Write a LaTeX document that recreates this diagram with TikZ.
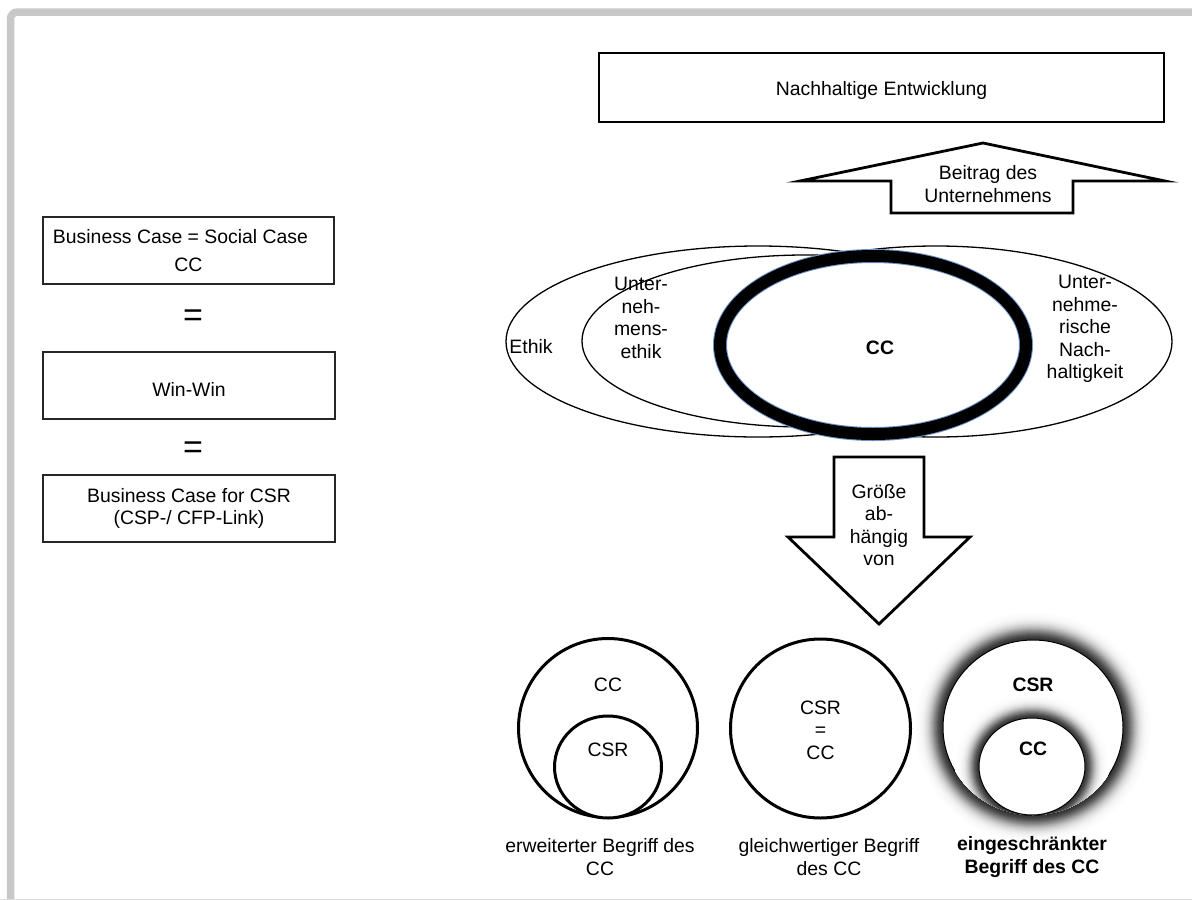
\documentclass[tikz,border=0pt]{standalone}
\usepackage{fontspec}
\setmainfont{Liberation Sans}
\usetikzlibrary{shapes.geometric}
\definecolor{framegray}{RGB}{200,200,200}
\definecolor{ringedge}{RGB}{110,150,205}
\begin{document}
\begin{tikzpicture}[x=1pt,y=-1pt,
  txt/.style={font=\fontsize{19.4}{22.4}\selectfont, align=center, inner sep=0pt},
  btxt/.style={txt, font=\fontsize{19.4}{22.4}\selectfont\bfseries},
  eqsign/.style={font=\fontsize{34}{34}\selectfont, inner sep=0pt},
  bx/.style={draw=black!85, line width=1.3, inner sep=0pt},
  oval/.style={ellipse, draw=black, line width=1.3, fill=white, inner sep=0pt},
  ring/.style={ellipse, draw=black, line width=3, fill=white, inner sep=0pt},
  thinring/.style={ellipse, draw=black, line width=1, fill=white, inner sep=0pt},
  bigarrow/.style={draw=black, line width=2.8, fill=white, line join=miter}]
\useasboundingbox (0,0) rectangle (1192,900);

% page frame
\draw[framegray, line width=7.5, rounded corners=7] (10.5,1000) |- (1300,12);
\draw[black!13, line width=3] (0,900) -- (1192,900);

% left column
\node[bx, minimum width=291, minimum height=67] (bc) at (188.5,250.5) {};
\node[txt] (bct) at (180.5,237) {Business Case = Social Case};
\node[txt] (bcc) at (188.5,265) {CC};
\node[eqsign] (eq1) at (193,318) {=};
\node[bx, minimum width=292, minimum height=67] (ww) at (189,385.5) {};
\node[txt] (wwt) at (189,389) {Win-Win};
\node[eqsign] (eq2) at (193,450) {=};
\node[bx, minimum width=292, minimum height=67] (bcsr) at (189,508.5) {};
\node[txt] (bcsrt) at (189,508.5) {Business Case for CSR\\(CSP-/ CFP-Link)};

% top box and upward arrow
\node[draw=black, line width=2.5, inner sep=0pt, minimum width=565, minimum height=69] (ne) at (881.5,87.5) {};
\node[txt] (net) at (881.5,90) {Nachhaltige Entwicklung};
\draw[bigarrow] (891,213) -- (891,181) -- (800,181) -- (983,143) -- (1165,181) -- (1073,181) -- (1073,213) -- cycle;
\node[txt] (up) at (988,184) {Beitrag des\\Unternehmens};

% overlapping ellipses
\node[oval, minimum width=504, minimum height=191] (eth) at (758,341.5) {};
\node[oval, minimum width=472, minimum height=191] (nach) at (936,341.5) {};
\node[oval, minimum width=446, minimum height=172] (ueth) at (805,341) {};
\node[ellipse, draw=ringedge, line width=14, fill=white, inner sep=0pt, minimum width=306, minimum height=178] (ccr) at (873,345) {};
\draw[black, line width=12] (ccr.center) ellipse[x radius=153, y radius=89];
\node[btxt] (cct) at (880,348) {CC};
\node[txt] (etht) at (531,347) {Ethik};
\node[txt] (uetht) at (641,318) {Unter-\\neh-\\mens-\\ethik};
\node[txt] (nacht) at (1085,329) {Unter-\\nehme-\\rische\\Nach-\\haltigkeit};

% downward arrow
\draw[bigarrow] (834,457) -- (924,457) -- (924,537) -- (970,537) -- (879,624) -- (788,537) -- (834,537) -- cycle;
\node[txt] (down) at (879,525) {Größe\\ab-\\hängig\\von};

% soft dark glow behind the restricted notion
\foreach \i in {28,27,...,1}{
  \pgfmathsetmacro\k{80*exp(-(\i/12.5)^2)}
  \fill[black!\k] (1033,727.5) ellipse[x radius=90+\i, y radius=87.5+\i];
}

% extended notion
\node[ring, minimum width=179, minimum height=179] (a1) at (608,728) {};
\node[ring, minimum width=107, minimum height=102] (a2) at (608,767) {};
\node[txt] (a1t) at (608,685) {CC};
\node[txt] (a2t) at (608,750) {CSR};
\node[txt] (al) at (600,857) {erweiterter Begriff des\\CC};

% equivalent notion
\node[ring, minimum width=180, minimum height=179] (b1) at (820.5,728.5) {};
\node[txt] (b1t) at (820.5,730) {CSR\\=\\CC};
\node[txt] (bl) at (829,857) {gleichwertiger Begriff\\des CC};

% restricted notion
\node[thinring, minimum width=180, minimum height=175] (c1) at (1033,727.5) {};
\begin{scope}
  \clip (c1.center) ellipse[x radius=90, y radius=87.5];
  \foreach \i in {24,23,...,1}{
    \pgfmathsetmacro\k{80*exp(-(\i/10)^2)}
    \fill[black!\k] (1032,766.5) ellipse[x radius=53+\i, y radius=48.5+\i];
  }
\end{scope}
\node[thinring, minimum width=106, minimum height=97] (c2) at (1032,766.5) {};
\node[btxt] (c1t) at (1033,685) {CSR};
\node[btxt] (c2t) at (1033,749) {CC};
\node[btxt] (cl) at (1032,857) {eingeschränkter\\Begriff des CC};
\end{tikzpicture}
\end{document}
